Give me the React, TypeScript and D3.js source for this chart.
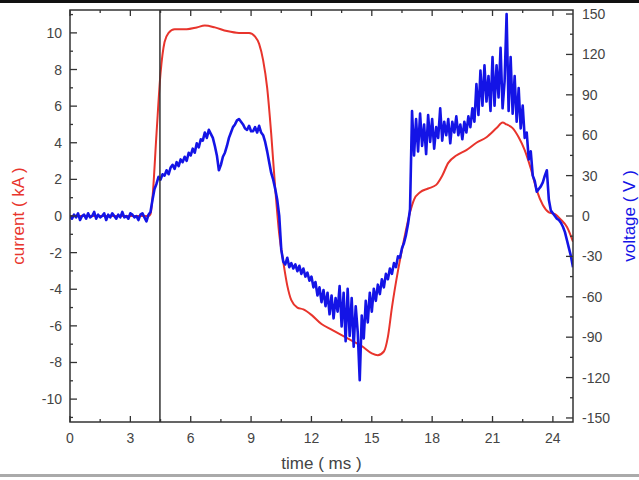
import React from "react";
import * as d3 from "d3";

const voltStart = 0;
const voltStep = 0.1;
const voltage: number[] = [
  0, -2, 1, -1, 2, -3, 0, 1, -2, 2, -1, 0, 3, -2, 1, -1, 0, 2, -3, 1,
  -1, 2, 0, -2, 1, -1, 3, -1, 0, -2, 2, 1, -1, 0, -3, 1, 2, -1, -4, 1,
  3, 12, 20, 24, 29, 27, 31, 30, 34, 31, 36, 38, 35, 40, 37, 42, 40, 44, 41, 47,
  45, 50, 47, 54, 51, 57, 56, 62, 58, 64, 61, 58, 52, 45, 34, 38, 44, 47, 52, 58,
  62, 66, 68, 71, 72, 70, 68, 65, 64, 67, 63, 63, 66, 62, 67, 62, 60, 55, 48, 40,
  32, 27, 20, 12, 0, -25, -34, -36, -31, -38, -35, -39, -36, -41, -37, -43, -39, -45, -42, -48,
  -45, -53, -49, -59, -53, -64, -55, -67, -57, -73, -59, -76, -61, -71, -52, -82, -57, -93, -54, -89,
  -61, -97, -67, -86, -122, -74, -91, -63, -79, -57, -71, -54, -63, -51, -58, -47, -53, -43, -47, -39,
  -43, -35, -38, -30, -31, -24, -20, -14, -6, 5, 78, 45, 72, 48, 76, 52, 68, 46, 75, 55,
  72, 50, 66, 58, 80, 56, 70, 60, 72, 54, 70, 62, 74, 60, 68, 57, 70, 62, 74, 66,
  80, 70, 98, 75, 108, 82, 112, 85, 104, 78, 118, 82, 112, 88, 125, 80, 100, 150, 78, 118,
  76, 104, 70, 95, 65, 82, 58, 62, 42, 48, 30, 26, 18, 20, 22, 25, 30, 34, 12, 4,
  2, 0, -2, -3, -5, -8, -12, -18, -24, -30, -38,
];

const currentTime: number[] = [
  0, 3.9, 4.0, 4.1, 4.3, 4.5, 4.7, 4.9, 5.2, 5.8, 6.3, 6.7, 7.2, 7.8, 8.4, 8.9, 9.2, 9.4, 9.6, 9.8,
  10.0, 10.2, 10.4, 10.6, 10.8, 11.0, 11.3, 11.6, 12.0, 12.5, 13.0, 13.5, 14.0, 14.5, 15.0, 15.3, 15.6, 15.8, 16.0, 16.3,
  16.6, 16.9, 17.1, 17.4, 17.8, 18.2, 18.5, 18.8, 19.2, 19.7, 20.2, 20.7, 21.2, 21.5, 21.7, 22.0, 22.3, 22.6, 22.9, 23.2,
  23.5, 23.8, 24.1, 24.4, 24.7, 25.0,
];
const currentKA: number[] = [
  0, 0, 0.1, 1.0, 4.5, 7.8, 9.5, 10.0, 10.2, 10.2, 10.3, 10.4, 10.3, 10.1, 10.0, 10.0, 9.8, 9.4, 8.5, 7.0,
  4.5, 1.5, -1.0, -2.5, -3.8, -4.6, -5.0, -5.1, -5.4, -5.9, -6.2, -6.5, -6.8, -7.1, -7.5, -7.6, -7.4, -6.6, -5.0, -3.0,
  -1.3, 0.2, 0.9, 1.3, 1.5, 1.7, 2.2, 2.9, 3.3, 3.6, 4.0, 4.3, 4.8, 5.1, 5.0, 4.8, 4.3, 3.6, 2.6, 1.4,
  0.6, 0.2, 0.1, -0.2, -0.6, -1.4,
];

const xTicks = [0, 3, 6, 9, 12, 15, 18, 21, 24];
const leftTicks = [-10, -8, -6, -4, -2, 0, 2, 4, 6, 8, 10];
const rightTicks = [-150, -120, -90, -60, -30, 0, 30, 60, 90, 120, 150];
const markerTime = 4.47;

export default function App() {
  const W = 639, H = 480;
  const L = 70, R = 573, T = 10, B = 422;
  const x = d3.scaleLinear().domain([0, 25]).range([L, R]);
  const yI = d3.scaleLinear().domain([-11.25, 11.25]).range([B, T]);
  const yV = d3.scaleLinear().domain([-153, 153]).range([B, T]);

  const vData = voltage.map((v, i) => [voltStart + i * voltStep, v] as [number, number]);
  const iData = currentTime.map((t, i) => [t, currentKA[i]] as [number, number]);

  const vLine = d3.line<[number, number]>().x(d => x(d[0])).y(d => yV(d[1]));
  const iLine = d3
    .line<[number, number]>()
    .x(d => x(d[0]))
    .y(d => yI(d[1]))
    .curve(d3.curveMonotoneX);

  const axisColor = "#333";
  const labelColor = "#444";
  const font = "Liberation Sans, Arial, sans-serif";

  const xMinor = d3.range(1.5, 25, 3);
  const leftMinor = d3.range(-11, 12, 2);
  const rightMinor = d3.range(-135, 150, 30);

  return (
    <svg width={W} height={H} style={{ position: "absolute", left: 0, top: 0, background: "#fff" }}>
      <rect x={0} y={0} width={W} height={H} fill="#fff" />
      <rect x={0} y={0} width={W} height={3} fill="#111" />
      <rect x={0} y={474} width={W} height={3} fill="#aaa" />
      <defs>
        <clipPath id="plot">
          <rect x={L} y={T} width={R - L} height={B - T} />
        </clipPath>
      </defs>

      <g clipPath="url(#plot)">
        <path d={iLine(iData) || ""} fill="none" stroke="#e8342c" strokeWidth={2} />
        <path d={vLine(vData) || ""} fill="none" stroke="#1414e6" strokeWidth={2.6} strokeLinejoin="round" />
        <line x1={x(markerTime)} x2={x(markerTime)} y1={T} y2={B} stroke="#333" strokeWidth={1.5} />
      </g>

      <rect x={L} y={T} width={R - L} height={B - T} fill="none" stroke={axisColor} strokeWidth={1.5} />

      {xTicks.map(t => (
        <g key={"xt" + t}>
          <line x1={x(t)} x2={x(t)} y1={B} y2={B - 6} stroke={axisColor} strokeWidth={1.3} />
          <line x1={x(t)} x2={x(t)} y1={T} y2={T + 6} stroke={axisColor} strokeWidth={1.3} />
          <text x={x(t)} y={443} textAnchor="middle" fontSize={14} fill={labelColor} fontFamily={font}>
            {t}
          </text>
        </g>
      ))}
      {xMinor.map(t => (
        <g key={"xm" + t}>
          <line x1={x(t)} x2={x(t)} y1={B} y2={B - 3} stroke={axisColor} strokeWidth={1.3} />
          <line x1={x(t)} x2={x(t)} y1={T} y2={T + 3} stroke={axisColor} strokeWidth={1.3} />
        </g>
      ))}

      {leftTicks.map(t => (
        <g key={"lt" + t}>
          <line x1={L} x2={L + 7} y1={yI(t)} y2={yI(t)} stroke={axisColor} strokeWidth={1.3} />
          <text x={62} y={yI(t) + 5} textAnchor="end" fontSize={14} fill={labelColor} fontFamily={font}>
            {t}
          </text>
        </g>
      ))}
      {leftMinor.map(t => (
        <line key={"lm" + t} x1={L} x2={L + 3} y1={yI(t)} y2={yI(t)} stroke={axisColor} strokeWidth={1.3} />
      ))}

      {rightTicks.map(t => (
        <g key={"rt" + t}>
          <line x1={R} x2={R - 7} y1={yV(t)} y2={yV(t)} stroke={axisColor} strokeWidth={1.3} />
          <text x={582} y={yV(t) + 5} textAnchor="start" fontSize={14} fill={labelColor} fontFamily={font}>
            {t}
          </text>
        </g>
      ))}
      {rightMinor.map(t => (
        <line key={"rm" + t} x1={R} x2={R - 3} y1={yV(t)} y2={yV(t)} stroke={axisColor} strokeWidth={1.3} />
      ))}

      <text
        transform={`translate(24, ${(T + B) / 2}) rotate(-90)`}
        textAnchor="middle"
        fontSize={17}
        fill="#e8342c"
        fontFamily={font}
      >
        current ( kA )
      </text>
      <text
        transform={`translate(635, ${(T + B) / 2}) rotate(-90)`}
        textAnchor="middle"
        fontSize={17}
        fill="#1414e6"
        fontFamily={font}
      >
        voltage ( V )
      </text>
      <text x={(L + R) / 2} y={469} textAnchor="middle" fontSize={17} fill={labelColor} fontFamily={font}>
        time ( ms )
      </text>
    </svg>
  );
}
